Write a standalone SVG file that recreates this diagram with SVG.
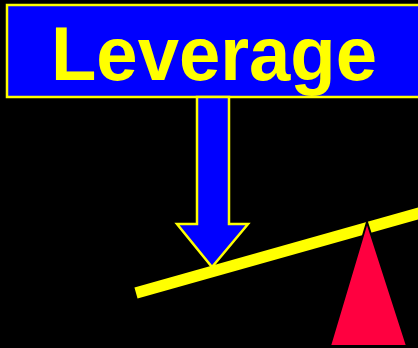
<svg xmlns="http://www.w3.org/2000/svg" width="418" height="348" viewBox="0 0 418 348">
<style>
.box{fill:#0000FF;stroke:#FFFF00;stroke-width:2.5}
.title{font-family:"Liberation Sans",Arial,sans-serif;font-weight:bold;font-size:76px;fill:#FFFF00}
.beam{stroke:#FFFF00;stroke-width:11.5;fill:none}
.fulcrum{fill:#FF0040;stroke:#000;stroke-width:2}
</style>
<rect width="418" height="348" fill="#000"/>
<g id="title">
<rect class="box" x="7" y="5" width="416" height="92"/>
<text class="title" x="51" y="80" textLength="326" lengthAdjust="spacingAndGlyphs">Leverage</text>
</g>
<g id="connectors">
<path class="box" d="M197,97 L229,97 L229,224 L248,224 L212,267 L177,224 L197,224 Z"/>
</g>
<g id="lever">
<line class="beam" x1="136" y1="293" x2="430" y2="210.2"/>
</g>
<g id="fulcrum">
<polygon class="fulcrum" points="367,222 407,346 330,346"/>
</g>
</svg>
